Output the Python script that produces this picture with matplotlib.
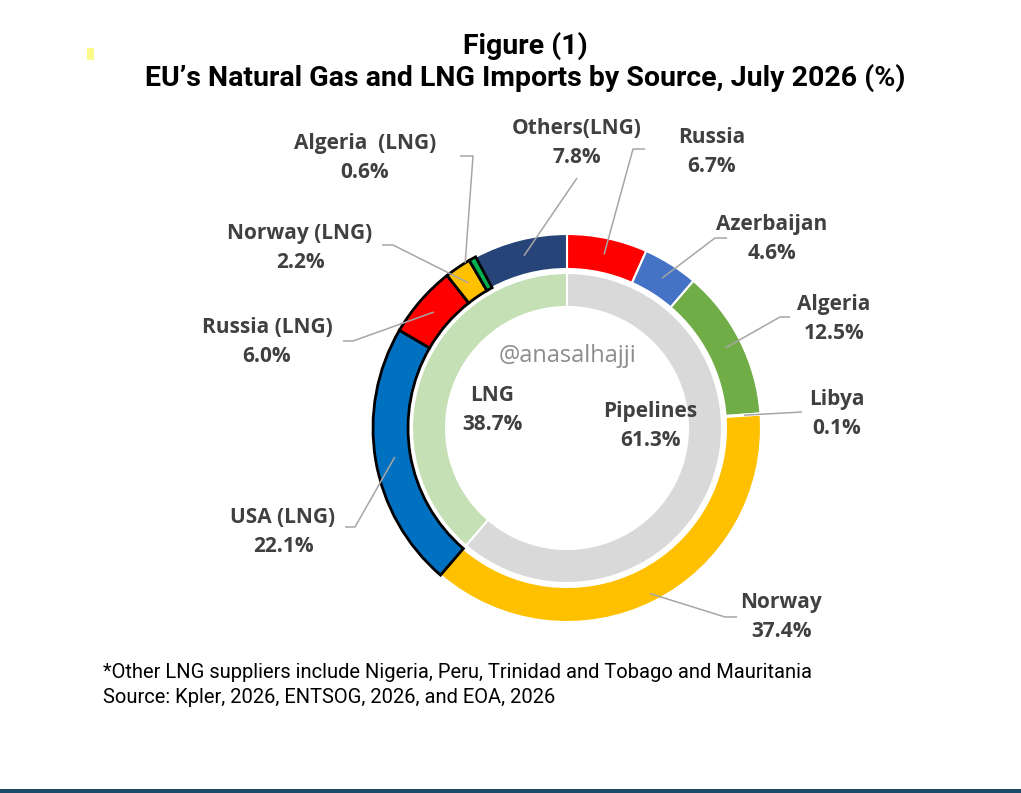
"""EU natural gas and LNG imports by source, July 2026 - nested donut."""
import matplotlib

matplotlib.use("Agg")
import matplotlib.pyplot as plt
import numpy as np
from matplotlib.patches import Rectangle

W, H = 1021, 793

# --------------------------------------------------------------------------- #
# Data
# --------------------------------------------------------------------------- #
outer_labels = ["Russia", "Azerbaijan", "Algeria", "Libya", "Norway",
                "USA (LNG)", "Russia (LNG)", "Norway (LNG)", "Algeria  (LNG)", "Others(LNG)"]
outer_values = [6.7, 4.6, 12.5, 0.1, 37.4, 22.1, 6.0, 2.2, 0.6, 7.8]
outer_colors = ["#ff0000", "#4472c4", "#70ad47", "#70ad47", "#ffc000",
                "#0070c0", "#ff0000", "#ffc000", "#00b050", "#264478"]
outer_is_lng = [False, False, False, False, False, True, True, True, True, False]

inner_labels = ["Pipelines", "LNG"]
inner_values = [61.3, 38.7]
inner_colors = ["#d9d9d9", "#c5e0b4"]

TITLE = "Figure (1)\nEU’s Natural Gas and LNG Imports by Source, July 2026 (%)"
NOTES = ("*Other LNG suppliers include Nigeria, Peru, Trinidad and Tobago and Mauritania\n"
         "Source: Kpler, 2026, ENTSOG, 2026, and EOA, 2026")
WATERMARK = "@anasalhajji"

# --------------------------------------------------------------------------- #
# Layout (pixel coordinates, y down)
# --------------------------------------------------------------------------- #
CX, CY = 567, 428
R_OUT, W_OUT = 194, 35
R_IN, W_IN = 155, 34

label_xy = [(712, 152), (772, 239), (834, 319), (837, 414), (781, 617),
            (283, 532), (267, 342), (300, 248), (365, 158), (577, 143)]
stub_end = [(645, 149), (727, 238), (790, 317), (802, 412), (737, 617),
            (345, 527), (343, 341), (382, 245), (460, 156), (577, 178)]
stub_len = [12, 12, 10, 0, 12, 10, 10, 11, 13, 0]
anchor_r = [0.915, 0.915, 0.915, 0.915, 0.955, 0.9, 0.91, 0.905, 1.0, 0.915]
anchor_shift = [0, 0, 0, 0, 0, 0, 0, 0, -2.5, 0]   # degrees, nudges along the ring
inner_text_xy = [(650, 426), (492, 410)]

LABEL_FONT = ["Open Sans", "DejaVu Sans"]
TITLE_FONT = ["Roboto", "DejaVu Sans"]
TEXT_COLOR = "#404040"
LEADER = "#a6a6a6"

fig = plt.figure(figsize=(W / 100, H / 100), dpi=100)
ax = fig.add_axes([0, 0, 1, 1])

# y axis runs downward, so startangle -90 is 12 o'clock and ccw in data is clockwise on screen
outer, _ = ax.pie(outer_values, colors=outer_colors, center=(CX, CY), radius=R_OUT,
                  startangle=-90, counterclock=True,
                  wedgeprops=dict(width=W_OUT, edgecolor="white", linewidth=1.5))
inner, _ = ax.pie(inner_values, colors=inner_colors, center=(CX, CY), radius=R_IN,
                  startangle=-90, counterclock=True,
                  wedgeprops=dict(width=W_IN, edgecolor="white", linewidth=1.5))
for w, lng in zip(outer, outer_is_lng):
    if lng:
        w.set_edgecolor("black")
        w.set_linewidth(2.0)
        w.set_zorder(3)

ax.set_xlim(0, W)
ax.set_ylim(H, 0)
ax.set_aspect("auto")
ax.axis("off")

# leader lines + labels
for w, lab, val, (tx, ty), (ex, ey), sl, ar, sh in zip(
        outer, outer_labels, outer_values, label_xy, stub_end, stub_len, anchor_r, anchor_shift):
    mid = np.deg2rad((w.theta1 + w.theta2) / 2 + sh)
    axp = CX + ar * R_OUT * np.cos(mid)
    ayp = CY + ar * R_OUT * np.sin(mid)
    kx = ex - sl if ex > axp else ex + sl
    ax.plot([axp, kx, ex], [ayp, ey, ey], color=LEADER, lw=1.1, zorder=4,
            solid_capstyle="butt")
    ax.text(tx, ty, f"{lab}\n{val:.1f}%", ha="center", va="center", fontsize=15,
            fontweight="bold", color=TEXT_COLOR, family=LABEL_FONT, linespacing=1.5)

for lab, val, (tx, ty) in zip(inner_labels, inner_values, inner_text_xy):
    ax.text(tx, ty, f"{lab}\n{val:.1f}%", ha="center", va="center", fontsize=15,
            fontweight="bold", color=TEXT_COLOR, family=LABEL_FONT, linespacing=1.5)

ax.text(CX, 356, WATERMARK, ha="center", va="center", fontsize=17,
        color="#8c8c8c", family=LABEL_FONT)

ax.text(525, 62, TITLE, ha="center", va="center", fontsize=20.5, fontweight="bold",
        color="black", family=TITLE_FONT, linespacing=1.2)
ax.text(103, 685, NOTES, ha="left", va="center", fontsize=14.5, color="black",
        family=TITLE_FONT, linespacing=1.4)

# page decorations
ax.add_patch(Rectangle((87, 48), 7, 12, color="#fbfb8a", lw=0))
ax.add_patch(Rectangle((0, 789), W, 4, color="#1b4a66", lw=0, clip_on=False))

fig.savefig("out.png", dpi=100)
